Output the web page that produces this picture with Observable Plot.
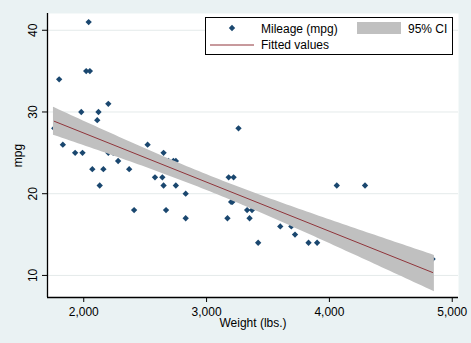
<!DOCTYPE html>
<html><head><meta charset="utf-8">
<script src="https://cdn.jsdelivr.net/npm/d3@7"></script>
<script src="https://cdn.jsdelivr.net/npm/@observablehq/plot@0.6"></script>
<style>
body{margin:0;background:#EAF2F3;}
</style></head><body><div id="wrap"></div>
<script>
// 1978 automobile data: weight (lbs.) and mileage (mpg)
const weight=[2930,3350,2640,3250,4080,3670,2230,3280,3880,3400,4330,3900,4290,2110,3690,3180,3220,2750,3430,2120,3600,3600,3740,1800,2650,4840,4720,3830,2580,4060,3720,3370,4130,2830,4060,3310,3300,3690,3370,2730,4030,3260,1800,2200,2520,3330,3700,3470,3210,3200,3420,2690,2830,2070,2650,2370,2020,2280,2750,2130,2240,1760,1980,3420,1830,2050,2410,2200,2670,2160,2040,1930,1990,3170];
const mpg=[22,17,22,20,15,18,26,20,16,19,14,14,21,29,16,22,22,24,19,30,18,16,17,28,21,12,12,14,22,14,15,18,14,20,21,19,19,18,19,24,16,28,34,25,26,18,18,18,19,19,19,24,17,23,25,23,35,24,21,21,25,28,30,14,26,35,18,31,18,23,41,25,25,17];
const xTicks=[2000,3000,4000,5000];
const yTicks=[10,20,30,40];
const xTitle="Weight (lbs.)";
const yTitle="mpg";
const legendLabels=["Mileage (mpg)","95% CI","Fitted values"];

const cars=weight.map((w,i)=>({weight:w,mpg:mpg[i]}));
const font='"Liberation Sans", Arial, sans-serif';
const xDomain=[1705,5051], yDomain=[7.3,42.05];
const R=2.85;

const plot=Plot.plot({
  width:471,height:343,
  marginLeft:47,marginRight:13,marginTop:13,marginBottom:46,
  style:{background:"#EAF2F3",fontFamily:font,fontSize:"12px",color:"#000"},
  x:{domain:xDomain},
  y:{domain:yDomain},
  marks:[
    Plot.frame({fill:"white",stroke:null}),
    Plot.gridY(yTicks,{stroke:"#E4EAEA",strokeOpacity:1,strokeWidth:1}),
    Plot.dot(cars,{x:"weight",y:"mpg",symbol:"diamond2",r:R,fill:"#1A476F",stroke:"none"}),
    Plot.linearRegressionY(cars,{x:"weight",y:"mpg",ci:0.95,stroke:"#90353B",strokeWidth:1,fill:"#C0C0C0",fillOpacity:1}),
    Plot.ruleX([xDomain[0]],{stroke:"#000",strokeWidth:1.3}),
    Plot.ruleY([yDomain[0]],{stroke:"#000",strokeWidth:1.3}),
    Plot.axisX(xTicks,{tickSize:5,tickPadding:4.5,tickFormat:d3.format(","),label:xTitle,labelAnchor:"center",labelArrow:"none",labelOffset:29.5,fill:"#000"}),
    Plot.axisY(yTicks,{tickSize:5,tickPadding:5.5,tickRotate:-90,textAnchor:"middle",lineAnchor:"bottom",label:yTitle,labelAnchor:"center",labelArrow:"none",labelOffset:34,fill:"#000"})
  ]
});
document.getElementById("wrap").appendChild(plot);

const svg=d3.select(plot);
// Stata's stair-stepped band edge renders slightly wider: pad the CI area edge
svg.selectAll("g[aria-label='linear-regression'] path").each(function(){
  const f=this.getAttribute("fill");
  if(f!=="none") d3.select(this).attr("stroke","#C0C0C0").attr("stroke-width",2.6).attr("stroke-opacity",1).attr("stroke-linejoin","miter");
});

// legend
const g=svg.append("g").attr("font-family",font).attr("font-size",12).attr("text-anchor","start");
g.append("rect").attr("x",205.5).attr("y",17.5).attr("width",247).attr("height",37).attr("fill","white").attr("stroke","#000").attr("stroke-width",1);
g.append("path").attr("d",d3.symbol(d3.symbolDiamond2,R*R*Math.PI)()).attr("transform","translate(232,28)").attr("fill","#1A476F");
g.append("text").attr("x",261).attr("y",33).text(legendLabels[0]);
g.append("rect").attr("x",357).attr("y",22).attr("width",44).attr("height",12).attr("fill","#C0C0C0");
g.append("text").attr("x",408).attr("y",33).text(legendLabels[1]);
g.append("line").attr("x1",210).attr("x2",254).attr("y1",45).attr("y2",45).attr("stroke","#90353B").attr("stroke-width",1);
g.append("text").attr("x",261).attr("y",48.5).text(legendLabels[2]);
</script></body></html>
